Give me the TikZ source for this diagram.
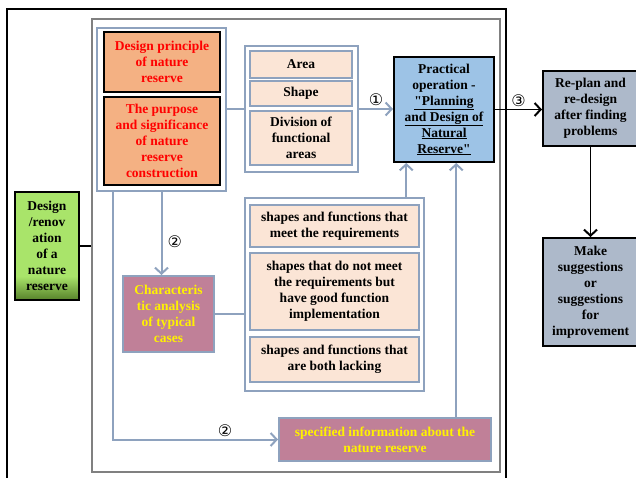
\documentclass[tikz,border=0pt]{standalone}
\usepackage{fontspec}
\setmainfont{Liberation Serif}
\newfontfamily\circfont{DejaVu Sans}
\usepackage{tikz}
\usetikzlibrary{arrows.meta, positioning, calc}

\definecolor{frameblue}{HTML}{8EA2BE}
\definecolor{salmon}{HTML}{F4B183}
\definecolor{peach}{HTML}{FBE5D6}
\definecolor{skyblue}{HTML}{9DC3E6}
\definecolor{slate}{HTML}{ADB9CA}
\definecolor{mauve}{HTML}{C08098}
\definecolor{lime}{HTML}{A9E46A}
\definecolor{limedark}{HTML}{5E8A30}
\pgfdeclareverticalshading{limefade}{100bp}{color(0bp)=(limedark); color(26bp)=(limedark); color(36bp)=(lime); color(100bp)=(lime)}

\begin{document}
\begin{tikzpicture}[x=1pt, y=-1pt,
  every node/.style={font=\bfseries\fontsize{13.5}{16}\selectfont, align=center, inner sep=0pt},
  frame/.style={draw=frameblue, line width=2.5pt, fill=white},
  item/.style={draw=frameblue, line width=2pt, fill=peach},
  key/.style={draw=black, line width=2pt, fill=salmon, text=red},
  case/.style={draw=frameblue, line width=2pt, fill=mauve, text=yellow},
  result/.style={draw=black, line width=2pt, fill=slate},
  num/.style={font=\circfont\fontsize{16}{16}\selectfont},
  link/.style={draw=frameblue, line width=2pt},
  >={Straight Barb[length=6pt, width=13pt, line width=2pt]}
]
  \useasboundingbox (0,0) rectangle (636,478);

  % outer frames
  \draw[line width=2.5pt] (7,9) rectangle (506,500);
  \node[draw=gray, line width=2.5pt, minimum width=408, minimum height=453] (gbox) at (296,245.5) {};

  \node[draw=black, line width=2pt, shading=limefade,
        minimum width=64, minimum height=108] (gr) at (47,246)
        {Design\\/renov\\ation\\of a\\nature\\reserve};

  % left group
  \node[frame, minimum width=129, minimum height=163] (fr1) at (161.5,109.5) {};
  \node[key, minimum width=116, minimum height=60] (dp) at (162,62)
        {Design principle\\of nature\\reserve};
  \node[key, minimum width=116, minimum height=88] (ps) at (162,141)
        {The purpose\\and significance\\of nature\\reserve\\construction};

  % area group
  \node[frame, minimum width=113, minimum height=126] (fr2) at (301.5,109) {};
  \node[item, minimum width=102, minimum height=27] (ar) at (301,64.5) {Area};
  \node[item, minimum width=102, minimum height=25] (sh) at (301,93.5) {Shape};
  \node[item, minimum width=102, minimum height=54] (dv) at (301,138) {Division of\\functional\\areas};

  \node[draw=black, line width=2pt, fill=skyblue, minimum width=100, minimum height=105] (po) at (444,109.5)
        {Practical\\operation -\\\underline{\textquotedbl Planning}\\\underline{and Design of}\\\underline{Natural}\\\underline{Reserve\textquotedbl}};

  \node[result, minimum width=95, minimum height=75] (rp) at (590.5,108.5)
        {Re-plan and\\re-design\\after finding\\problems};
  \node[result, minimum width=95, minimum height=108] (mk) at (590.5,292)
        {Make\\suggestions\\or\\suggestions\\for\\improvement};

  % shapes group
  \node[frame, minimum width=179, minimum height=193] (fr3) at (334.5,294.5) {};
  \node[item, minimum width=169, minimum height=42] (s1) at (334.5,226)
        {shapes and functions that\\meet the requirements};
  \node[item, minimum width=169, minimum height=77] (s2) at (334.5,291.5)
        {shapes that do not meet\\the requirements but\\have good function\\implementation};
  \node[item, minimum width=169, minimum height=45] (s3) at (334.5,359.5)
        {shapes and functions that\\are both lacking};

  \node[case, minimum width=91, minimum height=76] (ca) at (168.5,314)
        {Characteris\\tic analysis\\of typical\\cases};
  \node[case, minimum width=212, minimum height=43] (si) at (385,439.5)
        {specified information about the\\nature reserve};

  \coordinate (in3) at ($(po.south west)!0.13!(po.south east)$);
  \coordinate (in2) at ($(po.south west)!0.62!(po.south east)$);
  \coordinate (out2) at ($(fr1.south west)!0.13!(fr1.south east)$);

  \draw[line width=1.5pt] (gr.east) -- (gr.east -| gbox.west);
  \draw[link] (fr1.east) -- (fr1.east -| fr2.west);
  \draw[link, ->] (fr2.east) -- (fr2.east -| po.west) node[midway, above=2pt, num] {①};
  \draw[line width=1.5pt, ->] (po.east) -- (po.east -| rp.west) node[midway, above=2pt, num] {③};
  \draw[line width=1.5pt, ->] (rp.south) -- (mk.north);
  \draw[link, ->] (in3 |- fr3.north) -- (in3);
  \draw[link, ->] (in2 |- si.north) -- (in2);
  \draw[link, ->] (fr1.south) -- (fr1.south |- ca.north) node[pos=0.6, right=5pt, num] {②};
  \draw[link] (ca.east) -- (ca.east -| fr3.west);
  \draw[link, ->] (out2) |- (si.west) node[pos=0.84, above=2pt, num] {②};
\end{tikzpicture}
\end{document}
